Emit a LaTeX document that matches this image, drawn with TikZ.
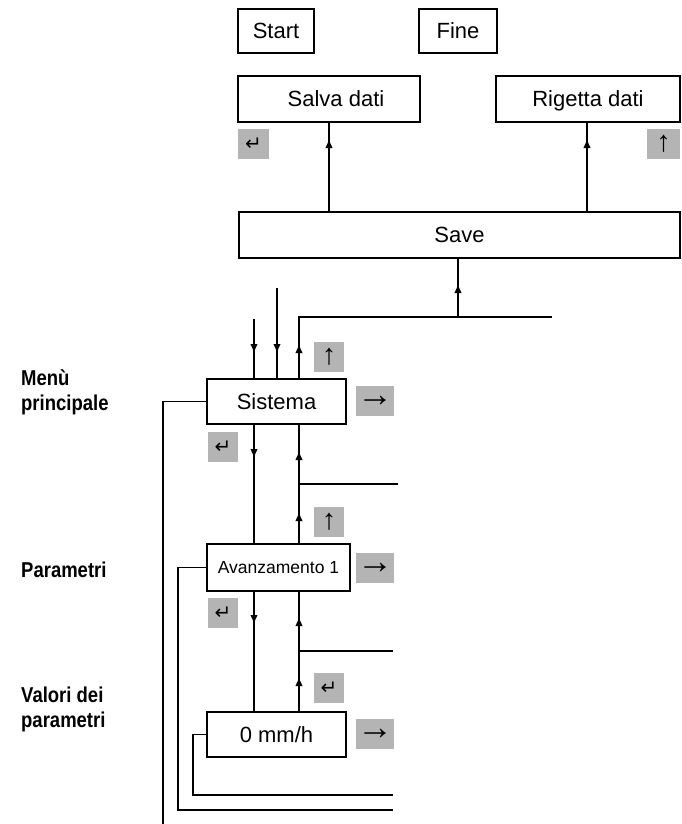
\documentclass[tikz,border=0pt]{standalone}
\usepackage{fontspec}
\setmainfont{Liberation Sans}
\newfontfamily\labfont[FakeStretch=0.86]{Liberation Sans}
\newfontfamily\symfont{DejaVu Sans}
\usetikzlibrary{arrows.meta,decorations.markings}
\definecolor{keygray}{RGB}{180,180,180}
\begin{document}
\begin{tikzpicture}[x=1pt,y=-1pt,
  box/.style={draw,line width=1.9pt,inner sep=0pt,outer sep=0pt,text height=17pt,text depth=2pt,font=\fontsize{22}{26}\selectfont},
  key/.style={fill=keygray,inner sep=0pt,outer sep=0pt,minimum width=30pt,minimum height=30pt},
  upkey/.style={key,font=\fontsize{29}{30}\selectfont},
  rtkey/.style={key,minimum width=38pt,font=\fontsize{36}{36}\selectfont},
  entkey/.style={key,font=\symfont\fontsize{20}{20}\selectfont},
  conn/.style={line width=1.8pt},
  tipat/.style={postaction={decorate,decoration={markings,mark=at position #1 with {\arrow{Triangle[width=6.5pt,length=8pt]}}}}},
  lab/.style={inner sep=0pt,anchor=base west,align=left,font=\labfont\bfseries\fontsize{21.5}{25}\selectfont}]
\useasboundingbox (0,0) rectangle (682,824);

% boxes
\node[box,minimum width=76pt,minimum height=44pt] (start) at (276,31) {Start};
\node[box,minimum width=78pt,minimum height=44pt] (fine) at (458,31) {Fine};
\node[box,minimum width=182pt,minimum height=46pt] (salva) at (329,99) {\hspace*{14pt}Salva dati};
\node[box,minimum width=184pt,minimum height=46pt] (rigetta) at (588,99) {Rigetta dati};
\node[box,minimum width=441pt,minimum height=46pt] (save) at (459.5,235) {Save};
\node[box,minimum width=139pt,minimum height=45pt] (sistema) at (276.5,401.5) {Sistema};
\node[box,minimum width=143pt,minimum height=47pt,text height=13.5pt,text depth=1pt,font=\fontsize{17.5}{20}\selectfont] (avanz) at (278.5,567.5) {Avanzamento 1};
\node[box,minimum width=139pt,minimum height=45pt] (mmh) at (276.5,734.5) {0 mm/h};

% keys
\node[entkey,minimum width=31pt] (ent1) at (253.5,144) {↵};
\node[upkey,minimum width=33pt] (up1) at (663.5,144) {↑};
\node[upkey] (up2) at (329,356.5) {↑};
\node[rtkey] (rt1) at (375,401) {→};
\node[entkey] (ent2) at (223,447) {↵};
\node[upkey] (up3) at (329,522) {↑};
\node[rtkey] (rt2) at (375,568) {→};
\node[entkey] (ent3) at (223,613) {↵};
\node[entkey] (ent4) at (329,688) {↵};
\node[rtkey] (rt3) at (375,734) {→};

% labels
\node[lab] (lmenu) at (21,410) {Menù\\principale};
\node[lab] (lpar) at (21,577) {Parametri};
\node[lab] (lval) at (21,727) {Valori dei\\parametri};

% column coordinates
\coordinate (xs) at (329,0);
\coordinate (xr) at (587,0);
\coordinate (xv) at (458,0);
\coordinate (xa) at (254,0);
\coordinate (xb) at (277,0);
\coordinate (xc) at (299,0);
\coordinate (hj) at (299,317);
\coordinate (hend) at (552,317);
\coordinate (ina) at (254,319);
\coordinate (inb) at (277,288);
\coordinate (h1) at (398,484);
\coordinate (h2) at (393,651);
\coordinate (e1) at (163,824);
\coordinate (c2) at (178,810);
\coordinate (e2) at (393,810);
\coordinate (c3) at (193,795);
\coordinate (e3) at (393,795);

% connectors
\draw[conn,tipat=72pt] (save.north -| xs) -- (salva.south -| xs);
\draw[conn,tipat=72pt] (save.north -| xr) -- (rigetta.south -| xr);
\draw[conn,tipat=32pt] (hend -| xv) -- (save.south -| xv);
\draw[conn,tipat=34pt] (sistema.north -| xc) -- (hj) -- (hend);
\draw[conn,tipat=33pt] (ina) -- (sistema.north -| xa);
\draw[conn,tipat=64pt] (inb) -- (sistema.north -| xb);
\draw[conn,tipat=33pt] (sistema.south -| xa) -- (avanz.north -| xa);
\draw[conn,tipat=31pt,tipat=92pt] (avanz.north -| xc) -- (sistema.south -| xc);
\draw[conn] (h1) -- (h1 -| xc);
\draw[conn,tipat=32pt] (avanz.south -| xa) -- (mmh.north -| xa);
\draw[conn,tipat=34pt,tipat=94pt] (mmh.north -| xc) -- (avanz.south -| xc);
\draw[conn] (h2) -- (h2 -| xc);
\draw[conn] (sistema.west) -| (e1);
\draw[conn] (avanz.west) -| (c2) -- (e2);
\draw[conn] (mmh.west) -| (c3) -- (e3);
\end{tikzpicture}
\end{document}
